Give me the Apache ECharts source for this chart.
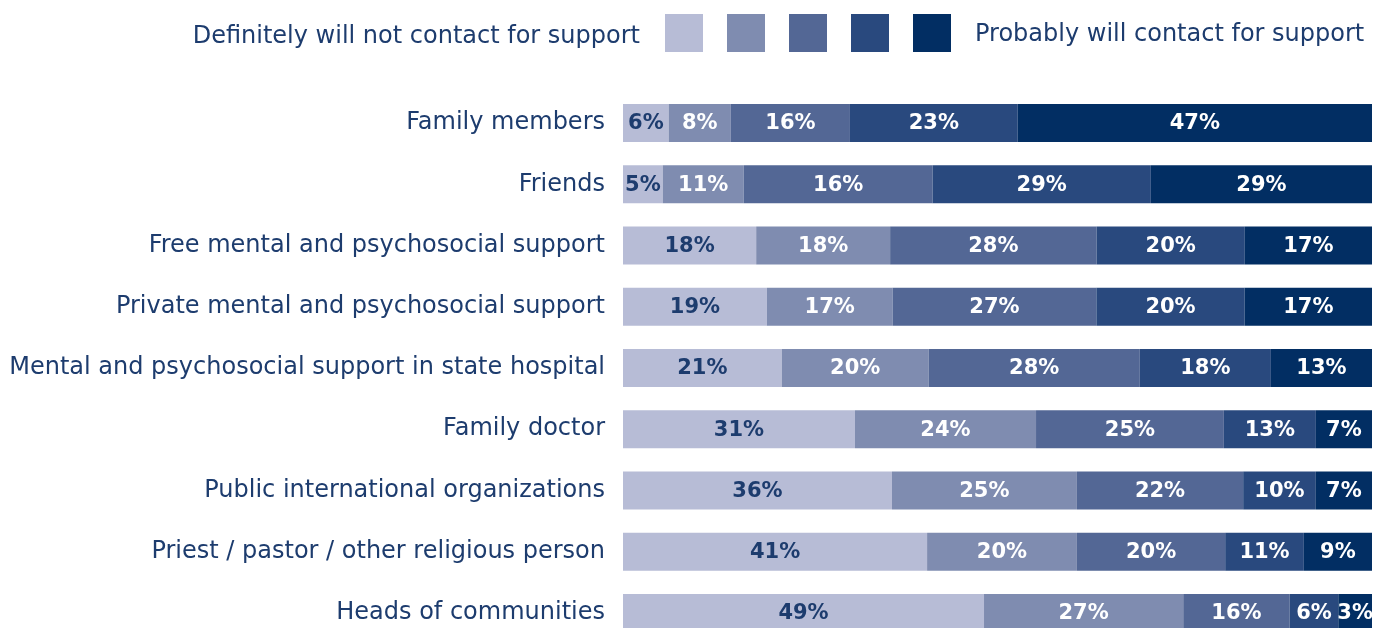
<!DOCTYPE html>
<html><head><meta charset="utf-8">
<script src="https://cdn.jsdelivr.net/npm/echarts@6/dist/echarts.min.js"></script>
<style>html,body{margin:0;padding:0;background:#fff;overflow:hidden}#c{width:1375px;height:660px}</style>
</head><body><div id="c"></div>
<script>
// Categories, top to bottom
const categories = [
  "Family members",
  "Friends",
  "Free mental and psychosocial support",
  "Private mental and psychosocial support",
  "Mental and psychosocial support in state hospital",
  "Family doctor",
  "Public international organizations",
  "Priest / pastor / other religious person",
  "Heads of communities"
];
const seriesNames = ["Definitely will not", "Level 2", "Level 3", "Level 4", "Probably will"];
// Printed percentages (labels)
const s1Labels = [6, 5, 18, 19, 21, 31, 36, 41, 49];
const s2Labels = [8, 11, 18, 17, 20, 24, 25, 20, 27];
const s3Labels = [16, 16, 28, 27, 28, 25, 22, 20, 16];
const s4Labels = [23, 29, 20, 20, 18, 13, 10, 11, 6];
const s5Labels = [47, 29, 17, 17, 13, 7, 7, 9, 3];
// Segment lengths as drawn in the picture (share of bar length, %)
const s1Values = [6.1, 5.3, 17.8, 19.2, 21.2, 31.0, 35.9, 40.6, 48.2];
const s2Values = [8.3, 10.8, 17.9, 16.8, 19.6, 24.2, 24.7, 20.0, 26.6];
const s3Values = [15.9, 25.2, 27.6, 27.2, 28.2, 25.1, 22.2, 19.8, 14.2];
const s4Values = [22.4, 29.1, 19.8, 19.8, 17.5, 12.3, 9.7, 10.5, 6.5];
const s5Values = [47.3, 29.5, 17.0, 17.0, 13.5, 7.5, 7.5, 9.1, 4.5];
const legendLeftText = "Definitely will not contact for support";
const legendRightText = "Probably will contact for support";

const colors = ["#b7bcd6", "#7f8cb0", "#536795", "#29497e", "#022e63"];
const navy = "#1d3c6e";
const FONT = "DejaVu Sans";

const valueSets = [s1Values, s2Values, s3Values, s4Values, s5Values];
const labelSets = [s1Labels, s2Labels, s3Labels, s4Labels, s5Labels];
const rowSums = categories.map((_, i) => valueSets.reduce((a, s) => a + s[i], 0));

const series = valueSets.map((vals, k) => ({
  name: seriesNames[k],
  type: 'bar',
  stack: 'total',
  barWidth: 38,
  itemStyle: { color: colors[k] },
  label: {
    show: true,
    position: 'inside',
    offset: [0, 1],
    color: k === 0 ? navy : '#ffffff',
    fontFamily: FONT,
    fontWeight: 'bold',
    fontSize: 21,
    formatter: p => labelSets[k][p.dataIndex] + '%'
  },
  emphasis: { disabled: true },
  data: vals.map((v, i) => v / rowSums[i] * 100)
}));

const chart = echarts.init(document.getElementById('c'), null, { renderer: 'canvas' });
chart.setOption({
  animation: false,
  textStyle: { fontFamily: FONT },
  legend: {
    top: 14,
    left: 665,
    padding: 0,
    itemWidth: 38,
    itemHeight: 38,
    itemGap: 24,
    selectedMode: false,
    icon: 'rect',
    formatter: () => '',
    textStyle: { fontSize: 1, padding: 0 },
    data: seriesNames
  },
  graphic: [
    { type: 'text', right: 1375 - 640, top: 25, style: { text: legendLeftText, fill: navy, font: '24px "DejaVu Sans"' } },
    { type: 'text', left: 975, top: 23, style: { text: legendRightText, fill: navy, font: '24px "DejaVu Sans"' } }
  ],
  grid: { left: 623, right: 3, top: 92.4, height: 551.2, containLabel: false },
  xAxis: { type: 'value', min: 0, max: 100, show: false },
  yAxis: {
    type: 'category',
    inverse: true,
    data: categories,
    axisLine: { show: false },
    axisTick: { show: false },
    splitLine: { show: false },
    axisLabel: { color: navy, fontSize: 24, fontFamily: FONT, margin: 18 }
  },
  series: series
});
</script></body></html>
